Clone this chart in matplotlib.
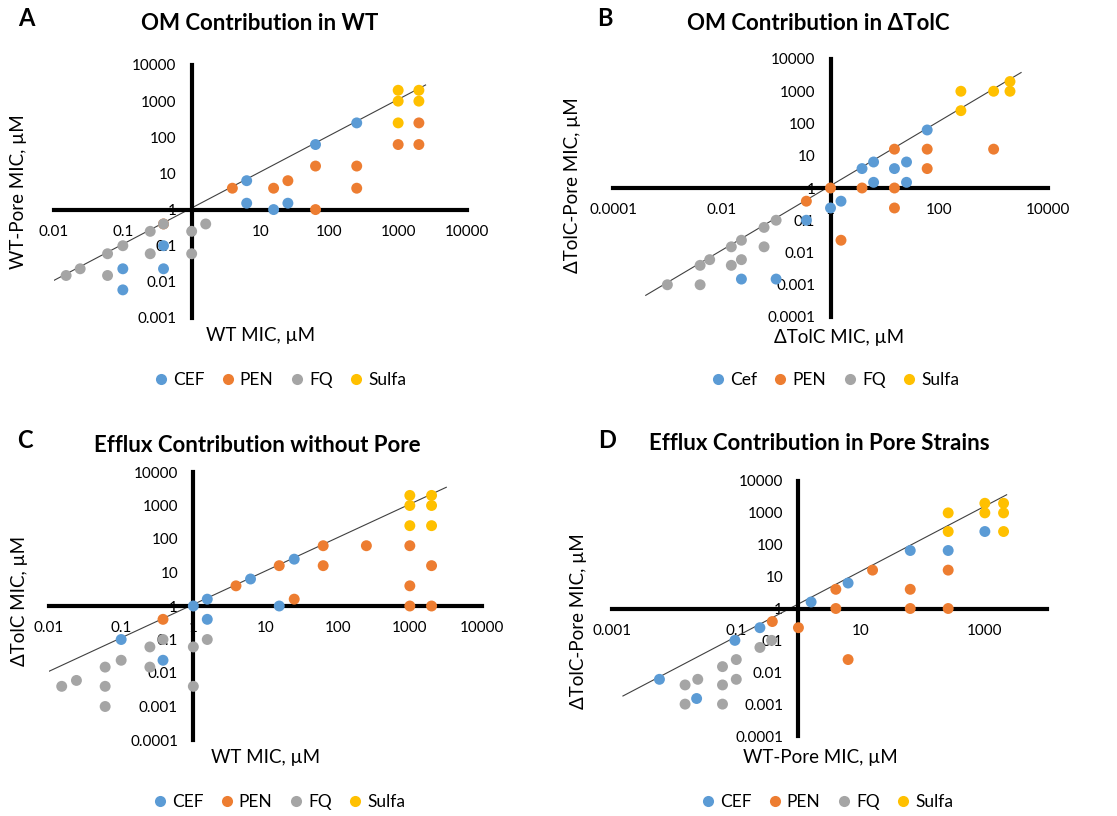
import numpy as np
import matplotlib.pyplot as plt
from matplotlib.lines import Line2D

plt.rcParams['font.family'] = ['Lato', 'DejaVu Sans']

series = ['CEF', 'PEN', 'FQ', 'Sulfa']
colors = ['#5B9BD5', '#ED7D31', '#A5A5A5', '#FFC000']

# ---- panel A: WT vs WT-Pore
a_x = [
    [0.1, 0.1, 0.39, 0.39, 6.3, 6.3, 15.5, 25, 63, 250],
    [0.39, 3.9, 15.5, 25, 63, 63, 250, 250, 1000, 2000, 2000],
    [0.015, 0.024, 0.06, 0.06, 0.1, 0.25, 0.25, 0.39, 1, 1, 1.6],
    [1000, 1000, 1000, 2000, 2000],
]
a_y = [
    [0.023, 0.006, 0.1, 0.023, 6.3, 1.5, 1, 1.5, 63, 250],
    [0.4, 3.9, 3.9, 6.3, 16, 1, 16, 3.9, 63, 63, 250],
    [0.015, 0.023, 0.06, 0.015, 0.1, 0.25, 0.06, 0.4, 0.25, 0.06, 0.4],
    [2000, 1000, 250, 2000, 1000],
]

# ---- panel B: dTolC vs dTolC-Pore
b_x = [
    [0.023, 0.1, 0.36, 1, 1.56, 3.8, 6.2, 6.2, 15, 25, 25, 60],
    [0.36, 1, 1.56, 3.8, 15, 15, 15, 60, 60, 1000],
    [0.001, 0.004, 0.004, 0.006, 0.015, 0.015, 0.023, 0.023, 0.06, 0.06, 0.1],
    [250, 250, 1000, 2000, 2000],
]
b_y = [
    [0.0015, 0.0015, 0.1, 0.24, 0.39, 4, 6.4, 1.5, 4, 6.4, 1.5, 63],
    [0.39, 1, 0.024, 1, 16, 1, 0.24, 16, 4, 16],
    [0.001, 0.001, 0.004, 0.006, 0.004, 0.015, 0.024, 0.006, 0.015, 0.06, 0.1],
    [1000, 250, 1000, 1000, 2000],
]

# ---- panel C: WT vs dTolC
c_x = [
    [0.1, 0.38, 1, 1.56, 1.56, 6.2, 15.5, 25],
    [0.38, 3.9, 15.5, 25, 63, 63, 250, 1000, 1000, 1000, 2000, 2000],
    [0.015, 0.024, 0.06, 0.06, 0.06, 0.1, 0.25, 0.25, 0.38, 1, 1, 1.56],
    [1000, 1000, 1000, 2000, 2000, 2000],
]
c_y = [
    [0.1, 0.024, 1, 0.4, 1.6, 6.4, 1, 25],
    [0.4, 4, 16, 1.6, 63, 16, 63, 63, 4, 1, 16, 1],
    [0.004, 0.006, 0.015, 0.004, 0.001, 0.024, 0.06, 0.015, 0.1, 0.06, 0.004, 0.1],
    [2000, 1000, 250, 2000, 1000, 250],
]

# ---- panel D: WT-Pore vs dTolC-Pore
d_x = [
    [0.0058, 0.023, 0.095, 0.24, 1.6, 6.3, 63, 257, 1000],
    [0.38, 1, 4, 4, 6.3, 15.6, 63, 63, 257, 257],
    [0.015, 0.015, 0.024, 0.06, 0.06, 0.06, 0.1, 0.1, 0.24, 0.37],
    [257, 257, 1000, 1000, 2000, 2000, 2000],
]
d_y = [
    [0.006, 0.0015, 0.1, 0.25, 1.6, 6.3, 66, 66, 260],
    [0.39, 0.25, 4, 1, 0.025, 16, 4, 1, 16, 1],
    [0.004, 0.001, 0.006, 0.015, 0.004, 0.001, 0.025, 0.006, 0.06, 0.1],
    [1000, 260, 2000, 1000, 2000, 1000, 260],
]

# reference lines (end points)
a_line = ([0.01, 2500], [0.011, 2800])
b_line = ([0.0004, 3200], [0.00047, 3800])
c_line = ([0.008, 3200], [0.009, 3500])
d_line = ([0.0015, 2240], [0.0018, 3700])

ticks_a_x = [0.01, 0.1, 1, 10, 100, 1000, 10000]
ticks_a_y = [0.001, 0.01, 0.1, 1, 10, 100, 1000, 10000]
ticks_b_x = [0.0001, 0.01, 1, 100, 10000]
ticks_full_y = [0.0001, 0.001, 0.01, 0.1, 1, 10, 100, 1000, 10000]
ticks_c_x = [0.01, 0.1, 1, 10, 100, 1000, 10000]
ticks_d_x = [0.001, 0.1, 10, 1000]


def fmt(v):
    return ('%f' % v).rstrip('0').rstrip('.')


W, H = 1117, 816
fig = plt.figure(figsize=(W / 100, H / 100), dpi=100)


def px_axes(l, t, r, b):
    return fig.add_axes([l / W, 1 - b / H, (r - l) / W, (b - t) / H])


def panel(ax, xs, ys, line, xt, yt, xlim, ylim, xlabel, ylabel, xlab_pos, ylab_pos):
    ax.set_xscale('log')
    ax.set_yscale('log')
    ax.set_xlim(*xlim)
    ax.set_ylim(*ylim)
    ax.plot(line[0], line[1], color='#404040', lw=0.8, zorder=2)
    for x, y, c in zip(xs, ys, colors):
        ax.scatter(x, y, s=62, color=c, edgecolors='none', zorder=3)
    for s in ['top', 'right']:
        ax.spines[s].set_visible(False)
    for s in ['left', 'bottom']:
        ax.spines[s].set_position(('data', 1))
        ax.spines[s].set_linewidth(3)
    ax.set_xticks(xt)
    ax.set_xticklabels([fmt(v) for v in xt])
    ax.set_yticks(yt)
    ax.set_yticklabels([fmt(v) for v in yt])
    ax.minorticks_off()
    ax.tick_params(length=0, labelsize=11, pad=11)
    ax.patch.set_alpha(0)
    ax.text(xlab_pos[0], xlab_pos[1], xlabel, transform=ax.transAxes,
            ha='center', va='center', fontsize=13.5)
    ax.text(ylab_pos[0], ylab_pos[1], ylabel, transform=ax.transAxes,
            ha='center', va='center', rotation=90, fontsize=13.5)


def legend(labels, cx, cy):
    handles = [Line2D([], [], ls='none', marker='o', ms=8, mec='none', mfc=c) for c in colors]
    fig.legend(handles, labels, loc='center', bbox_to_anchor=(cx / W, 1 - cy / H),
               ncol=4, frameon=False, fontsize=12.5, handlelength=0.8,
               handletextpad=0.3, columnspacing=0.95)


axA = px_axes(54, 65, 467, 318)
panel(axA, a_x, a_y, a_line, ticks_a_x, ticks_a_y, (0.01, 10000), (0.001, 10000),
      'WT MIC, \u00b5M', 'WT-Pore MIC, \u00b5M', (0.5, -0.068), (-0.086, 0.5))
axB = px_axes(613, 59, 1048, 317)
panel(axB, b_x, b_y, b_line, ticks_b_x, ticks_full_y, (0.0001, 10000), (0.0001, 10000),
      '\u0394TolC MIC, \u00b5M', '\u0394TolC-Pore MIC, \u00b5M', (0.52, -0.08), (-0.094, 0.51))
axC = px_axes(49, 472, 482, 740)
panel(axC, c_x, c_y, c_line, ticks_c_x, ticks_full_y, (0.01, 10000), (0.0001, 10000),
      'WT MIC, \u00b5M', '\u0394TolC MIC, \u00b5M', (0.5, -0.064), (-0.069, 0.52))
axD = px_axes(612, 481, 1047, 736)
panel(axD, d_x, d_y, d_line, ticks_d_x, ticks_full_y, (0.001, 10000), (0.0001, 10000),
      'WT-Pore MIC, \u00b5M', '\u0394TolC-Pore MIC, \u00b5M', (0.48, -0.086), (-0.076, 0.45))

# titles and panel letters
titles = ['OM Contribution in WT', 'OM Contribution in \u0394TolC',
          'Efflux Contribution without Pore', 'Efflux Contribution in Pore Strains']
title_pos = [(260, 23), (818, 23), (257, 446), (819, 444)]
letters = ['A', 'B', 'C', 'D']
letter_pos = [(18, 18), (597, 18), (17, 441), (598, 441)]
for t, (x, y) in zip(titles, title_pos):
    fig.text(x / W, 1 - y / H, t, ha='center', va='center', fontsize=16, fontweight='bold')
for t, (x, y) in zip(letters, letter_pos):
    fig.text(x / W, 1 - y / H, t, ha='left', va='center', fontsize=17, fontweight='bold')

legend(series, 280, 380)
legend(['Cef', 'PEN', 'FQ', 'Sulfa'], 835, 380)
legend(series, 279, 802)
legend(series, 827, 802)

fig.savefig('out.png', dpi=100)
